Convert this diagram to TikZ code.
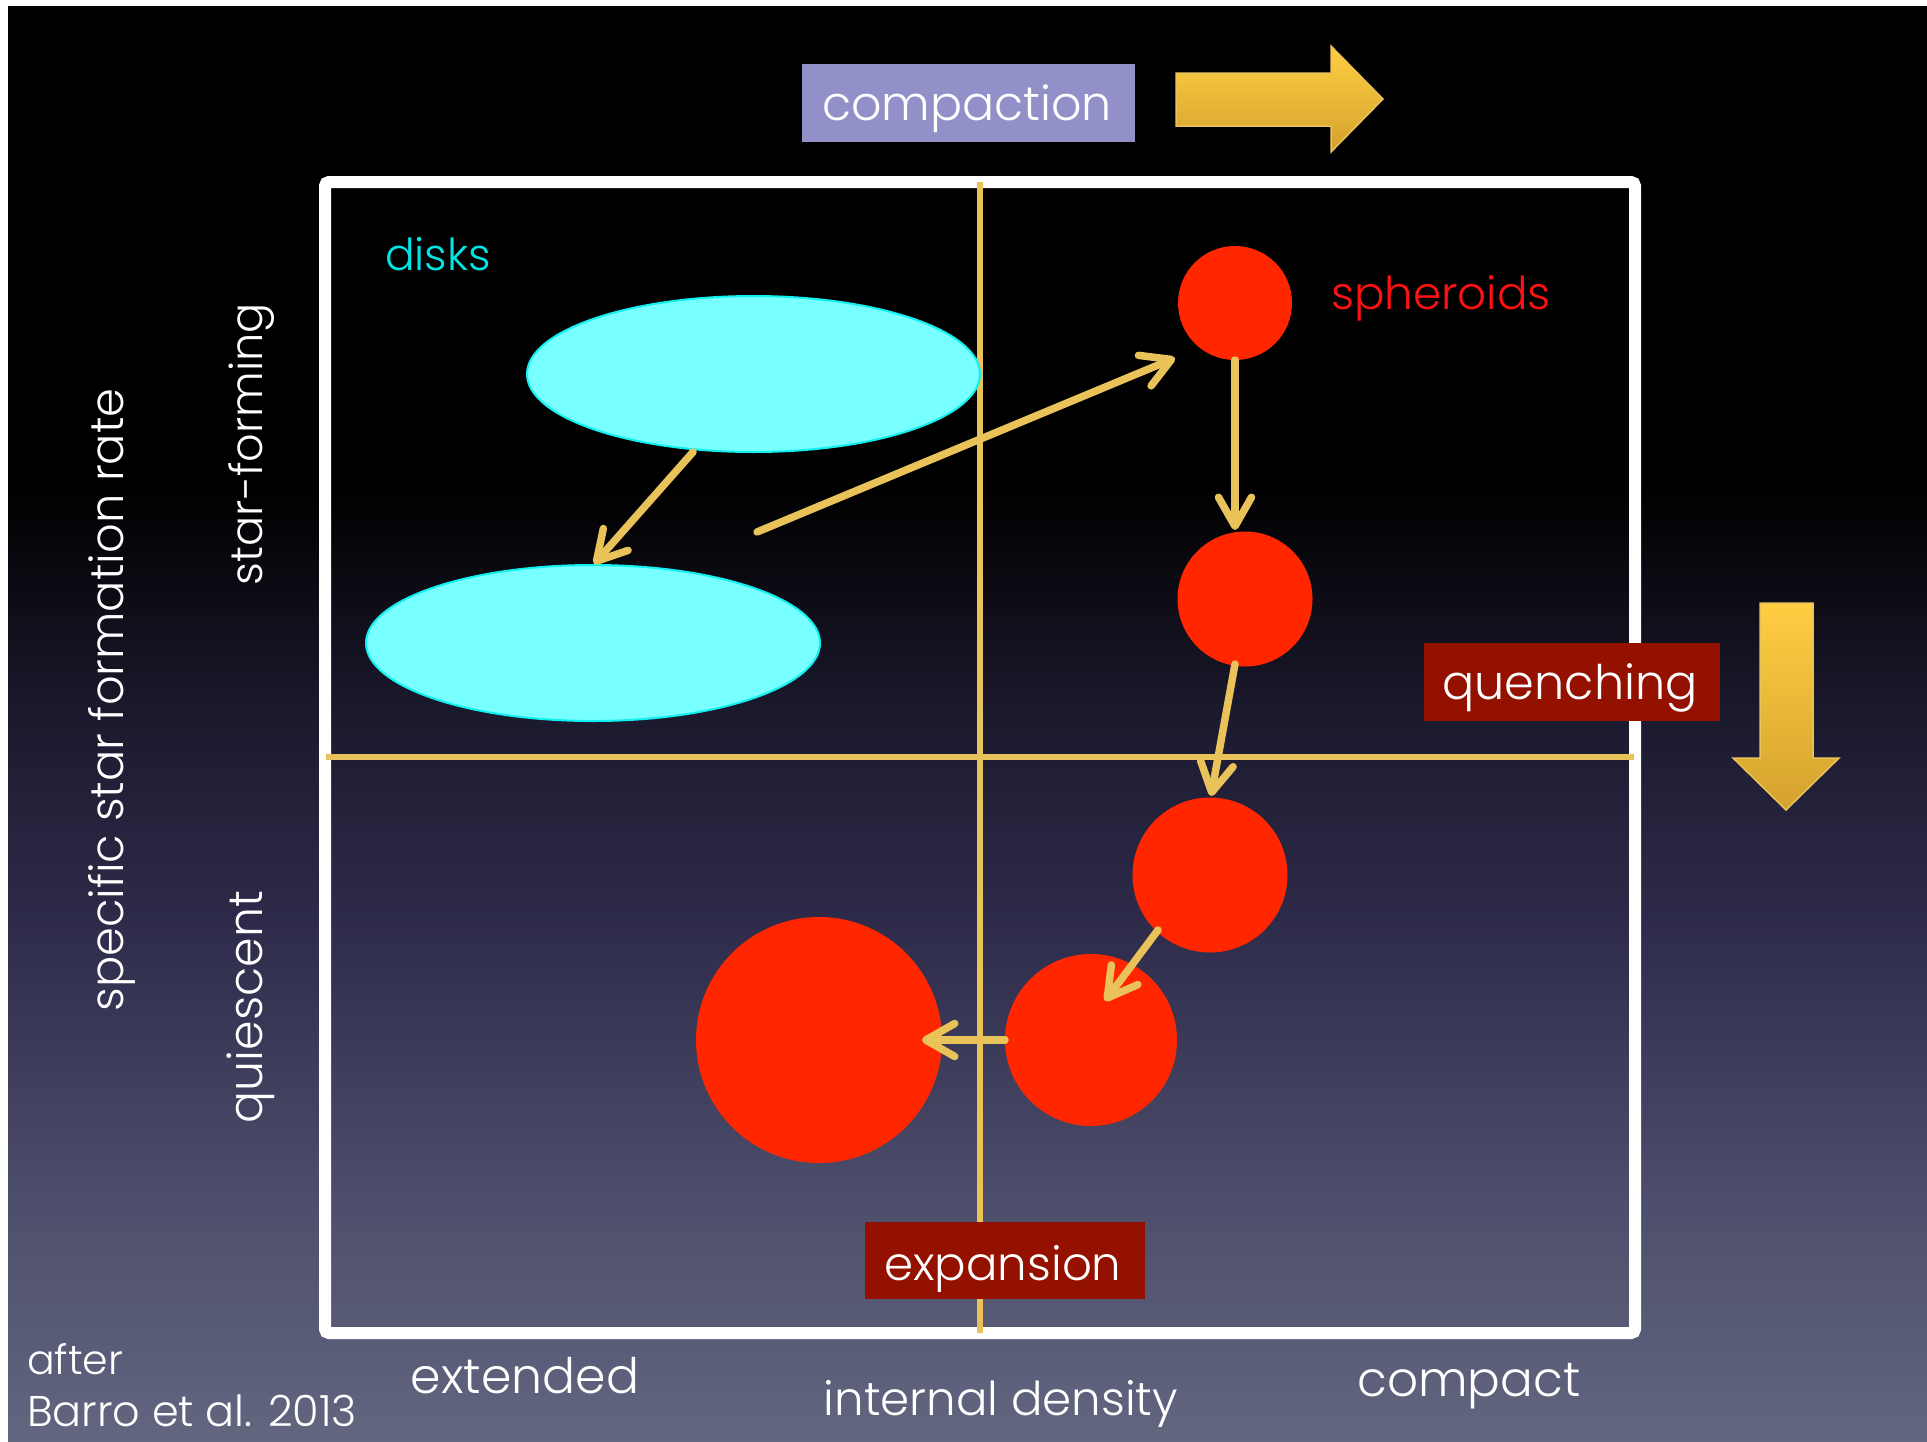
\documentclass[tikz,border=0pt]{standalone}
\usepackage{fontspec}
\setmainfont{Poppins}[UprightFont={* Light}]
\usetikzlibrary{arrows.meta,shapes.geometric}
\definecolor{gold}{HTML}{E9C25A}
\definecolor{bgA}{HTML}{1D1B30}
\definecolor{bgB}{HTML}{2F2C4C}
\definecolor{bgC}{HTML}{4D4E6B}
\definecolor{bgD}{HTML}{62667F}
\definecolor{sphred}{HTML}{FF2600}
\definecolor{diskfill}{HTML}{78FFFF}
\definecolor{diskline}{HTML}{10F0F0}
\definecolor{disktext}{HTML}{00E6E6}
\definecolor{sphtext}{HTML}{FF1111}
\definecolor{boxred}{HTML}{941100}
\definecolor{lavender}{HTML}{9190C8}
\definecolor{arrtop}{HTML}{FFCE42}
\definecolor{arrbot}{HTML}{D4A22E}
\pgfdeclareverticalshading{bgshade}{100bp}{color(0bp)=(bgD); color(25bp)=(bgD); color(33.4bp)=(bgC); color(42.7bp)=(bgB); color(49.7bp)=(bgA); color(58.3bp)=(black); color(100bp)=(black)}
\newcommand{\fitw}[2]{\resizebox{#1pt}{!}{#2}}
\begin{document}
\begin{tikzpicture}[x=1pt,y=-1pt,
  lbl/.style={text=white, inner sep=0, outer sep=0, anchor=base},
  disk/.style={ellipse, fill=diskfill, draw=diskline, line width=2pt, inner sep=0, outer sep=0},
  sph/.style={circle, fill=sphred, inner sep=0, outer sep=0},
  garrow/.style={draw=gold, line width=7.5pt, line cap=round, -{Straight Barb[length=29pt,width=33pt,round]}},
  gline/.style={draw=gold, line width=5.5pt},
  bigarrow/.style={top color=arrtop, bottom color=arrbot, draw=gold, line width=1.5pt},
  tagbox/.style={inner sep=0, outer sep=0}
]
\useasboundingbox (0,0) rectangle (1927,1441);
\fill[white] (0,0) rectangle (1927,1441);
\shade[shading=bgshade] (8,6) rectangle (1927,1441);

% frame
\draw[white, line width=12pt, rounded corners=4pt] (325,182) rectangle (1635,1333);

% axis lines
\coordinate (vtop) at (980,182);
\coordinate (vbot) at (980,1333);
\coordinate (hleft) at (326,757);
\coordinate (hright) at (1634,757);
\draw[gline] (vtop) -- (vbot);
\draw[gline] (hleft) -- (hright);

% disks
\node[disk, minimum width=453pt, minimum height=156pt] (d1) at (753.5,374) {};
\node[disk, minimum width=454pt, minimum height=156pt] (d2) at (593,643) {};

% spheroids
\node[sph, minimum size=114pt] (s1) at (1235,303) {};
\node[sph, minimum size=135pt] (s2) at (1245,599) {};
\node[sph, minimum size=155pt] (s3) at (1210,875) {};
\node[sph, minimum size=172pt] (s4) at (1091,1040) {};
\node[sph, minimum size=246pt] (s5) at (819,1040) {};

% connector end points
\coordinate (aS) at (693,452);
\coordinate (aT) at (594,564);
\coordinate (bS) at (757,532);
\coordinate (bT) at (1175,358);
\coordinate (cT) at (1235,530);
\coordinate (dS) at (1235,664);
\coordinate (dT) at (1211,796);
\coordinate (eS) at (1158,930);
\coordinate (eT) at (1105,1001);
\coordinate (fT) at (922,1040);

\draw[garrow] (aS) -- (aT);
\draw[garrow] (bS) -- (bT);
\draw[garrow] (s1.south) -- (cT);
\draw[garrow] (dS) -- (dT);
\draw[garrow] (eS) -- (eT);
\draw[garrow] (s4.west) -- (fT);

% big arrows
\shade[bigarrow] (1176,73) -- (1331,73) -- (1331,46) -- (1383,99) -- (1331,152) -- (1331,126) -- (1176,126) -- cycle;
\shade[bigarrow] (1760,603) -- (1813,603) -- (1813,758) -- (1839,758) -- (1786,810) -- (1733,758) -- (1760,758) -- cycle;

% tag boxes
\node[tagbox, fill=lavender, minimum width=333pt, minimum height=78pt] (compbox) at (968.5,103) {};
\node[tagbox, fill=boxred, minimum width=296pt, minimum height=78pt] (quenbox) at (1572,682) {};
\node[tagbox, fill=boxred, minimum width=280pt, minimum height=77pt] (expbox) at (1005,1260.5) {};

% texts
\node[lbl] (comptext) at (967,120) {\fitw{290}{compaction}};
\node[lbl] (quentext) at (1570,699) {\fitw{255}{quenching}};
\node[lbl] (exptext) at (1003,1280) {\fitw{237}{expansion}};
\node[lbl, text=sphtext] (sphtext) at (1441,309) {\fitw{220}{spheroids}};
\node[lbl, text=disktext] (disktext) at (438,270) {\fitw{106}{disks}};
\node[lbl] (extended) at (525,1393) {\fitw{228}{extended}};
\node[lbl] (density) at (1001,1415) {\fitw{354}{internal density}};
\node[lbl] (compact) at (1469,1396) {\fitw{223}{compact}};
\node[lbl, anchor=base west] (after) at (27,1374) {\fitw{96}{after}};
\node[lbl, anchor=base west] (barro) at (27,1426) {\fitw{330}{Barro et al. 2013}};
\node[lbl, rotate=90] (ssfr) at (123,700) {\fitw{623}{specific star formation rate}};
\node[lbl, rotate=90] (sf) at (262,444) {\fitw{282}{star-forming}};
\node[lbl, rotate=90] (qu) at (262,1007) {\fitw{232}{quiescent}};
\end{tikzpicture}
\end{document}
